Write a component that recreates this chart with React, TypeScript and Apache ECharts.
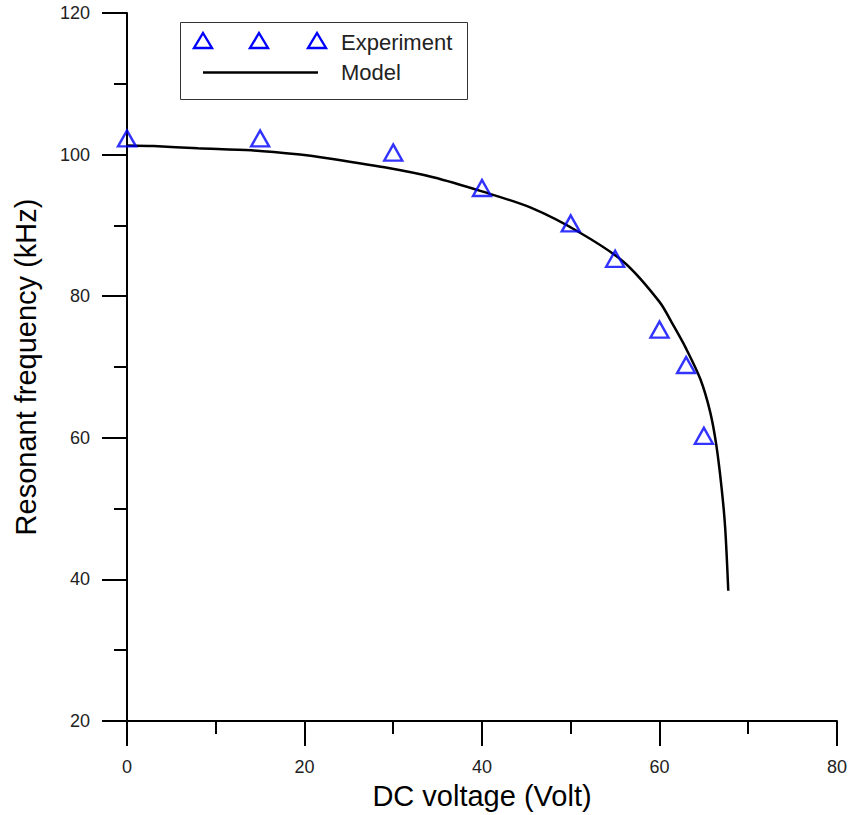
import React, { useEffect, useRef } from "react";
import * as echarts from "echarts";

const experimentV = [0, 15, 30, 40, 50, 55, 60, 63, 65];
const experimentF = [102, 102, 100, 95, 90, 85, 75, 70, 60];

const modelV = [0, 3, 8, 14, 19.5, 22, 29, 34.5, 40, 45.5, 51, 56, 60, 61.55, 63, 64.6, 65.7, 66.4, 67.0, 67.4, 67.75];
const modelF = [101.3, 101.2, 100.9, 100.6, 100.0, 99.6, 98.2, 96.8, 94.8, 92.5, 89.0, 84.8, 79.2, 75.9, 72.6, 68.3, 63.7, 59.0, 52.9, 47.3, 38.4];

const xTicks = { min: 0, max: 80, interval: 20 };
const yTicks = { min: 20, max: 120, interval: 20 };

const FONT = "Liberation Sans, Arial, sans-serif";

export default function App() {
  const ref = useRef<HTMLDivElement>(null);
  useEffect(() => {
    if (!ref.current) return;
    const chart = echarts.init(ref.current, null, { renderer: "svg" });
    const axisCommon = {
      axisLine: { show: true, onZero: false, lineStyle: { color: "#000", width: 2 } },
      axisTick: { show: true, inside: false, length: 25, lineStyle: { color: "#000", width: 2 } },
      minorTick: { show: true, splitNumber: 2, length: 13, lineStyle: { color: "#000", width: 2 } },
      splitLine: { show: false },
      minorSplitLine: { show: false },
      nameLocation: "middle" as const,
      nameTextStyle: { fontFamily: FONT, fontSize: 29, color: "#000" },
      axisLabel: { fontFamily: FONT, fontSize: 18, color: "#222", margin: 37 },
    };
    const legendX = 180;
    const legendY = 22;
    const tri = (cx: number, cy: number) => ({
      type: "polygon",
      shape: { points: [[cx, cy - 8], [cx + 9, cy + 7], [cx - 9, cy + 7]] },
      style: { fill: "none", stroke: "#0000ff", lineWidth: 2.4 },
    });
    chart.setOption({
      animation: false,
      backgroundColor: "#fff",
      grid: { left: 127, right: 13, top: 13, bottom: 91, containLabel: false },
      xAxis: {
        type: "value",
        ...axisCommon,
        min: xTicks.min,
        max: xTicks.max,
        interval: xTicks.interval,
        name: "DC voltage (Volt)",
        nameGap: 60,
      },
      yAxis: {
        type: "value",
        ...axisCommon,
        min: yTicks.min,
        max: yTicks.max,
        interval: yTicks.interval,
        name: "Resonant frequency (kHz)",
        nameGap: 87,
      },
      series: [
        {
          name: "Model",
          type: "line",
          data: modelV.map((v, i) => [v, modelF[i]]),
          showSymbol: false,
          symbol: "none",
          smooth: 0.3,
          lineStyle: { color: "#000", width: 2.5 },
          z: 2,
        },
        {
          name: "Experiment",
          type: "scatter",
          data: experimentV.map((v, i) => [v, experimentF[i]]),
          symbol: "triangle",
          symbolSize: [18, 16],
          symbolOffset: [0, -2],
          itemStyle: { color: "rgba(0,0,0,0)", borderColor: "#0000ff", borderWidth: 2.4 },
          z: 3,
        },
      ],
      graphic: [
        {
          type: "rect",
          shape: { x: legendX + 0.5, y: legendY + 0.5, width: 287, height: 77 },
          style: { fill: "#fff", stroke: "#333", lineWidth: 1 },
          z: 10,
        },
        { ...tri(203, 41), z: 11 },
        { ...tri(259, 41), z: 11 },
        { ...tri(317, 41), z: 11 },
        {
          type: "line",
          shape: { x1: 203, y1: 72.5, x2: 318, y2: 72.5 },
          style: { stroke: "#000", lineWidth: 2.5 },
          z: 11,
        },
        {
          type: "text",
          x: 341,
          y: 42,
          style: { text: "Experiment", font: `22px ${FONT}`, fill: "#222", textVerticalAlign: "middle" },
          z: 11,
        },
        {
          type: "text",
          x: 341,
          y: 72,
          style: { text: "Model", font: `22px ${FONT}`, fill: "#222", textVerticalAlign: "middle" },
          z: 11,
        },
      ],
    });
    return () => chart.dispose();
  }, []);
  return (
    <div
      ref={ref}
      style={{ position: "fixed", left: 0, top: 0, width: 850, height: 815, background: "#fff" }}
    />
  );
}
